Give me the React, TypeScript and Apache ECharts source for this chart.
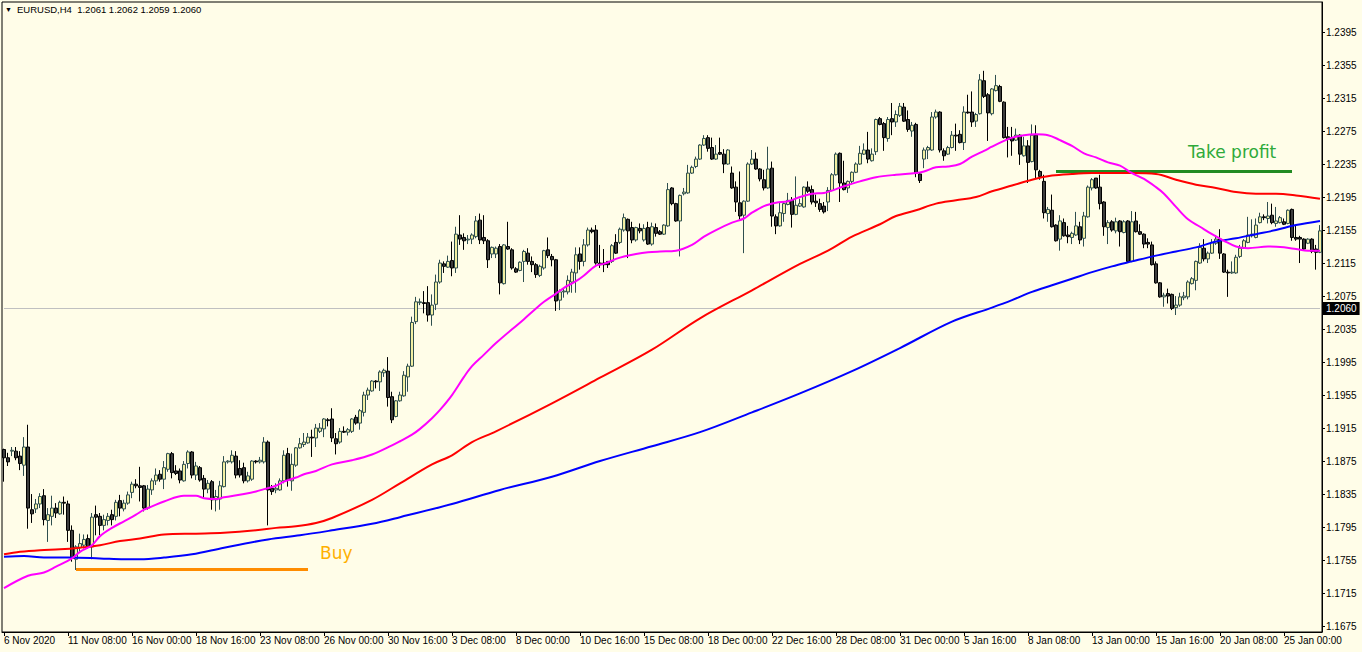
import React, { useEffect, useRef } from "react";
import * as echarts from "echarts";

const SCALE = 10000; // values below are in units of 0.0001

// H4 bars, [open, high, low, close]
const OHLC: number[][] = [
  [11889,11890,11850,11879],[11879,11885,11869,11874],[11887,11892,11881,11888],[11887,11892,11876,11879],
  [11881,11887,11864,11872],[11870,11904,11857,11892],[11892,11919,11793,11818],[11816,11835,11800,11811],
  [11817,11829,11812,11823],[11823,11836,11818,11832],[11833,11841,11797,11804],[11803,11818,11777,11810],
  [11808,11833,11797,11818],[11818,11824,11806,11812],[11811,11827,11810,11825],[11825,11832,11810,11824],
  [11823,11827,11777,11791],[11791,11797,11753,11757],[11756,11773,11743,11771],[11770,11787,11765,11775],
  [11773,11786,11769,11780],[11781,11786,11769,11771],[11771,11812,11756,11807],[11810,11821,11785,11807],
  [11808,11812,11785,11797],[11797,11810,11791,11804],[11803,11812,11797,11808],[11810,11816,11797,11804],
  [11808,11828,11803,11825],[11827,11834,11808,11818],[11817,11828,11814,11824],[11824,11838,11822,11834],
  [11837,11850,11830,11847],[11847,11853,11842,11845],[11845,11868,11826,11843],[11845,11846,11814,11818],
  [11818,11846,11816,11841],[11840,11854,11834,11851],[11851,11866,11846,11858],[11859,11864,11850,11853],
  [11853,11875,11841,11867],[11865,11885,11862,11884],[11884,11886,11854,11861],[11863,11870,11858,11860],
  [11863,11866,11848,11852],[11851,11875,11850,11871],[11872,11888,11866,11886],[11886,11887,11854,11858],
  [11858,11874,11852,11869],[11867,11869,11850,11852],[11854,11858,11830,11841],[11841,11852,11836,11848],
  [11850,11852,11816,11828],[11828,11840,11814,11832],[11829,11851,11816,11845],[11844,11881,11843,11874],
  [11874,11876,11872,11875],[11874,11888,11872,11882],[11881,11887,11854,11858],[11866,11876,11855,11858],
  [11867,11873,11848,11851],[11851,11862,11849,11857],[11853,11876,11851,11875],[11875,11876,11872,11874],
  [11874,11880,11872,11876],[11874,11904,11872,11898],[11898,11900,11797,11840],[11842,11846,11834,11838],
  [11840,11848,11836,11842],[11840,11854,11839,11851],[11851,11888,11848,11882],[11884,11891,11844,11852],
  [11851,11884,11839,11871],[11870,11892,11868,11891],[11891,11903,11890,11896],[11895,11909,11892,11898],
  [11897,11909,11896,11904],[11904,11913,11880,11903],[11903,11920,11892,11915],[11911,11921,11909,11915],
  [11914,11927,11904,11926],[11925,11927,11917,11924],[11926,11939,11898,11903],[11902,11909,11883,11896],
  [11898,11915,11896,11911],[11911,11917,11909,11910],[11910,11915,11906,11913],[11911,11927,11909,11926],
  [11928,11931,11919,11921],[11921,11938,11913,11936],[11934,11959,11929,11955],[11955,11964,11949,11961],
  [11960,11973,11959,11972],[11972,11973,11963,11971],[11971,11985,11960,11983],[11982,11987,11977,11985],
  [11984,12001,11941,11952],[11953,11959,11921,11925],[11929,11949,11928,11948],[11948,11959,11947,11955],
  [11954,11984,11953,11979],[11977,11993,11959,11990],[11990,12050,11989,12043],[12044,12074,12041,12068],
  [12067,12072,12064,12068],[12067,12081,12054,12066],[12067,12087,12044,12052],[12052,12077,12039,12064],
  [12065,12101,12058,12092],[12092,12119,12090,12115],[12114,12117,12103,12111],[12110,12124,12109,12117],
  [12118,12141,12099,12109],[12109,12159,12103,12150],[12149,12173,12137,12144],[12146,12151,12131,12142],
  [12143,12149,12138,12144],[12144,12151,12138,12149],[12147,12172,12145,12166],[12167,12175,12138,12143],
  [12146,12173,12138,12142],[12142,12144,12109,12119],[12126,12135,12121,12134],[12126,12135,12121,12133],
  [12135,12138,12077,12091],[12090,12138,12089,12137],[12135,12165,12131,12132],[12131,12133,12107,12109],
  [12108,12110,12103,12104],[12106,12117,12105,12116],[12117,12131,12092,12129],[12127,12133,12113,12117],
  [12117,12123,12104,12113],[12113,12115,12097,12101],[12100,12113,12098,12111],[12109,12131,12107,12130],
  [12131,12146,12121,12124],[12123,12126,12111,12119],[12119,12120,12057,12069],[12070,12083,12058,12080],
  [12080,12084,12073,12081],[12080,12100,12077,12094],[12092,12108,12079,12104],[12103,12134,12079,12125],
  [12126,12134,12107,12117],[12117,12144,12111,12137],[12137,12158,12135,12155],[12155,12158,12151,12153],
  [12155,12161,12113,12115],[12115,12137,12109,12113],[12115,12132,12104,12113],[12117,12117,12109,12113],
  [12117,12138,12115,12136],[12140,12150,12126,12127],[12140,12158,12138,12156],[12155,12175,12153,12170],
  [12168,12169,12121,12154],[12158,12165,12139,12143],[12143,12159,12141,12158],[12157,12163,12151,12154],
  [12143,12162,12141,12157],[12158,12165,12137,12138],[12138,12164,12136,12159],[12158,12163,12147,12151],
  [12153,12155,12149,12150],[12150,12162,12149,12161],[12160,12212,12159,12204],[12206,12207,12185,12187],
  [12187,12188,12165,12166],[12166,12198,12123,12197],[12199,12206,12197,12201],[12200,12234,12199,12224],
  [12224,12233,12223,12231],[12232,12244,12230,12241],[12241,12259,12240,12258],[12258,12270,12257,12266],
  [12267,12270,12250,12254],[12255,12267,12240,12241],[12241,12258,12240,12247],[12249,12267,12246,12247],
  [12247,12253,12224,12235],[12235,12253,12234,12252],[12224,12232,12205,12206],[12207,12214,12177,12189],
  [12188,12226,12167,12172],[12173,12191,12127,12190],[12190,12237,12189,12235],[12235,12252,12234,12241],
  [12241,12249,12228,12229],[12229,12230,12214,12217],[12216,12228,12203,12206],[12206,12256,12205,12229],
  [12230,12238,12159,12172],[12171,12174,12150,12160],[12160,12189,12159,12176],[12175,12190,12165,12187],
  [12186,12200,12185,12191],[12191,12195,12158,12174],[12174,12220,12173,12185],[12184,12193,12183,12187],
  [12183,12208,12182,12207],[12207,12214,12200,12202],[12204,12209,12186,12189],[12190,12198,12183,12188],
  [12187,12193,12177,12180],[12184,12189,12175,12177],[12189,12207,12178,12203],[12203,12224,12202,12222],
  [12222,12249,12221,12247],[12248,12249,12189,12212],[12212,12239,12203,12204],[12206,12215,12200,12214],
  [12214,12226,12212,12225],[12225,12237,12224,12235],[12235,12257,12234,12248],[12247,12260,12246,12252],
  [12252,12274,12236,12241],[12239,12254,12238,12247],[12250,12290,12246,12289],[12290,12292,12282,12283],
  [12284,12286,12251,12267],[12266,12292,12262,12289],[12290,12309,12270,12286],[12286,12300,12280,12295],
  [12294,12309,12292,12305],[12304,12309,12286,12287],[12289,12300,12274,12277],[12275,12286,12268,12282],
  [12283,12285,12219,12224],[12223,12224,12212,12215],[12241,12255,12230,12252],[12252,12257,12241,12255],
  [12252,12298,12251,12292],[12292,12301,12290,12298],[12298,12299,12249,12252],[12251,12254,12239,12245],
  [12247,12257,12246,12255],[12255,12275,12254,12270],[12270,12284,12251,12269],[12271,12276,12260,12261],
  [12261,12305,12252,12298],[12298,12319,12296,12297],[12298,12323,12280,12286],[12287,12297,12280,12295],
  [12296,12344,12295,12337],[12336,12348,12315,12317],[12319,12321,12263,12297],[12296,12327,12294,12326],
  [12324,12343,12323,12330],[12329,12331,12310,12311],[12310,12311,12266,12267],[12268,12280,12243,12265],
  [12267,12280,12245,12263],[12264,12278,12263,12270],[12270,12271,12234,12247],[12245,12268,12244,12257],
  [12257,12264,12212,12237],[12238,12283,12237,12270],[12270,12282,12218,12228],[12226,12228,12216,12220],
  [12214,12222,12169,12176],[12175,12183,12165,12180],[12179,12198,12158,12159],[12161,12162,12141,12142],
  [12144,12173,12130,12166],[12164,12169,12147,12148],[12149,12160,12139,12147],[12146,12153,12138,12151],
  [12149,12177,12148,12160],[12159,12165,12138,12143],[12145,12177,12135,12172],[12171,12209,12170,12207],
  [12206,12218,12203,12216],[12218,12218,12205,12206],[12207,12222,12180,12187],[12189,12190,12148,12159],
  [12158,12167,12138,12164],[12165,12167,12153,12155],[12154,12170,12151,12165],[12166,12167,12135,12153],
  [12152,12167,12151,12165],[12166,12167,12116,12117],[12117,12178,12116,12165],[12166,12177,12152,12153],
  [12153,12162,12149,12150],[12150,12151,12133,12138],[12140,12145,12133,12138],[12137,12141,12112,12113],
  [12114,12117,12090,12091],[12091,12092,12073,12074],[12074,12079,12062,12076],[12078,12084,12066,12075],
  [12077,12078,12058,12060],[12061,12075,12052,12064],[12064,12079,12062,12074],[12073,12080,12070,12075],
  [12074,12094,12071,12092],[12090,12098,12089,12096],[12094,12118,12082,12117],[12115,12139,12114,12134],
  [12133,12144,12117,12120],[12120,12129,12115,12127],[12127,12144,12126,12140],[12139,12149,12137,12144],
  [12144,12156,12120,12127],[12126,12127,12103,12104],[12104,12107,12074,12103],[12103,12117,12102,12104],
  [12103,12125,12102,12122],[12123,12137,12121,12133],[12133,12144,12132,12142],[12140,12171,12139,12149],
  [12148,12168,12146,12150],[12146,12169,12145,12161],[12164,12176,12163,12171],[12171,12174,12167,12170],
  [12169,12189,12163,12172],[12173,12187,12162,12164],[12163,12183,12159,12166],[12164,12172,12163,12170],
  [12165,12169,12161,12162],[12163,12180,12162,12179],[12180,12181,12142,12146],[12146,12161,12142,12144],
  [12146,12148,12115,12144],[12144,12145,12130,12132],[12139,12145,12138,12144],[12144,12145,12127,12129],
  [12132,12137,12107,12128],[12128,12161,12127,12154],
];

// moving averages: [bar index, value]
const MA_FAST: number[][] = [
  [0,11721],[6,11736],[10,11740],[13,11747],[17,11757],[19,11765],[22,11773],[24,11784],[27,11794],[30,11802],
  [33,11810],[35,11816],[37,11820],[40,11826],[45,11833],[48,11833],[50,11830],[53,11829],[55,11831],[60,11835],
  [63,11838],[65,11841],[68,11845],[70,11850],[73,11855],[75,11859],[78,11863],[82,11871],[87,11876],[92,11883],
  [97,11894],[99,11899],[102,11907],[104,11914],[107,11927],[109,11937],[112,11955],[115,11977],[117,11990],
  [120,12004],[123,12018],[130,12047],[133,12060],[135,12068],[138,12078],[140,12085],[143,12093],[145,12100],
  [148,12112],[150,12114],[153,12120],[155,12123],[158,12126],[161,12128],[164,12129],[168,12130],[172,12137],
  [175,12147],[178,12155],[182,12164],[185,12169],[187,12176],[190,12184],[193,12188],[196,12190],[199,12195],
  [202,12199],[205,12200],[210,12208],[214,12214],[218,12219],[223,12222],[228,12224],[230,12226],[233,12231],
  [236,12232],[239,12235],[242,12244],[245,12251],[247,12256],[250,12263],[252,12267],[255,12270],[258,12271],
  [261,12270],[264,12264],[267,12257],[270,12248],[273,12243],[276,12237],[279,12233],[282,12224],[285,12217],
  [288,12207],[290,12199],[293,12183],[296,12168],[299,12159],[302,12150],[305,12142],[308,12135],[311,12133],
  [316,12135],[320,12134],[323,12132],[326,12130],[329,12130],
];
const MA_MID: number[][] = [
  [0,11762],[4,11765],[9,11767],[14,11768],[19,11770],[24,11773],[29,11778],[34,11781],[40,11786],[48,11787],
  [55,11788],[63,11791],[68,11794],[73,11796],[78,11800],[82,11806],[92,11828],[99,11848],[107,11871],[112,11882],
  [117,11898],[123,11911],[137,11945],[149,11976],[162,12010],[174,12048],[187,12082],[199,12114],[206,12130],
  [212,12147],[219,12162],[223,12172],[228,12179],[233,12187],[238,12191],[243,12195],[247,12202],[252,12209],
  [257,12216],[262,12221],[267,12223],[272,12224],[277,12224],[282,12224],[288,12223],[293,12216],[298,12210],
  [303,12206],[308,12201],[313,12199],[318,12199],[323,12197],[329,12193],
];
const MA_SLOW: number[][] = [
  [0,11759],[5,11760],[10,11758],[16,11758],[24,11757],[30,11756],[34,11756],[40,11758],[47,11762],[55,11770],
  [66,11780],[74,11785],[82,11791],[92,11799],[99,11807],[112,11823],[124,11840],[137,11856],[149,11875],
  [162,11893],[174,11910],[187,11934],[199,11957],[212,11984],[224,12012],[237,12044],[247,12061],[252,12070],
  [257,12080],[262,12088],[267,12096],[272,12104],[277,12111],[282,12117],[288,12124],[293,12129],[298,12134],
  [303,12141],[308,12145],[313,12150],[318,12155],[323,12161],[329,12166],
];

const TICK_LABELS = [
  "6 Nov 2020","11 Nov 08:00","16 Nov 00:00","18 Nov 16:00","23 Nov 08:00","26 Nov 00:00","30 Nov 16:00",
  "3 Dec 08:00","8 Dec 00:00","10 Dec 16:00","15 Dec 08:00","18 Dec 00:00","22 Dec 16:00","28 Dec 08:00",
  "31 Dec 00:00","5 Jan 16:00","8 Jan 08:00","13 Jan 00:00","15 Jan 16:00","20 Jan 08:00","25 Jan 00:00",
];
const BARS_PER_TICK = 16;
const Y_TICKS = [11675,11715,11755,11795,11835,11875,11915,11955,11995,12035,12075,12115,12155,12195,12235,12275,12315,12355,12395];
const Y_MIN = 11667.8;
const Y_MAX = 12431.4;

const HEADER = "EURUSD,H4  1.2061 1.2062 1.2059 1.2060";
const BID = 12060;
const BUY_LEVEL = 11744;
const BUY_RANGE = [18, 76];
const BUY_TEXT_AT = [79, 11763];
const TP_LEVEL = 12226;
const TP_RANGE = [263, 322];
const TP_TEXT_AT = [296, 12250];

const FONT = "'Liberation Sans', Arial, sans-serif";

export default function App() {
  const ref = useRef<HTMLDivElement>(null);
  useEffect(() => {
    if (!ref.current) return;
    const chart = echarts.init(ref.current, undefined, { renderer: "svg" });
    const cats = OHLC.map((_, i) => String(i));
    const candles = OHLC.map(([o, h, l, c]) => [o / SCALE, c / SCALE, l / SCALE, h / SCALE]);
    const pts = (a: number[][]) => a.map(([i, v]) => [i, v / SCALE]);
    const lastBar = OHLC.length - 1;
    const maLine = (name: string, data: number[][], color: string) => ({
      name,
      type: "line",
      data: pts(data),
      showSymbol: false,
      smooth: 0.35,
      lineStyle: { color, width: 2 },
      z: 4,
      silent: true,
    });
    const option: any = {
      animation: false,
      backgroundColor: "#FFFDE8",
      grid: { left: 2, right: 40, top: 2, bottom: 20, show: true, borderColor: "#000", borderWidth: 1 },
      xAxis: {
        type: "category",
        data: cats,
        boundaryGap: true,
        axisLine: { show: true, lineStyle: { color: "#000", width: 1 } },
        axisTick: { show: true, alignWithLabel: true, interval: BARS_PER_TICK - 1, length: 4, lineStyle: { color: "#000" } },
        axisLabel: {
          interval: BARS_PER_TICK - 1,
          align: "left",
          margin: 3,
          fontSize: 10,
          fontFamily: FONT,
          color: "#000",
          formatter: (_v: string, idx: number) => TICK_LABELS[idx / BARS_PER_TICK] ?? "",
        },
        splitLine: { show: false },
      },
      yAxis: {
        type: "value",
        position: "right",
        min: Y_MIN / SCALE,
        max: Y_MAX / SCALE,
        axisLine: { show: true, lineStyle: { color: "#000", width: 1 } },
        axisTick: { show: true, length: 3, customValues: Y_TICKS.map((v) => v / SCALE), lineStyle: { color: "#000" } },
        axisLabel: {
          customValues: Y_TICKS.map((v) => v / SCALE),
          formatter: (v: number) => v.toFixed(4),
          fontSize: 10,
          fontFamily: FONT,
          color: "#000",
          margin: 4,
        },
        splitLine: { show: false },
      },
      graphic: [
        { type: "text", left: 5, top: 6, style: { text: "▼", fontSize: 7, fill: "#000", fontFamily: FONT } },
        { type: "text", left: 17, top: 4, style: { text: HEADER, fontSize: 9.5, fill: "#000", fontFamily: FONT } },
      ],
      series: [
        {
          name: "EURUSD",
          type: "candlestick",
          data: candles,
          barWidth: 3,
          z: 3,
          silent: true,
          itemStyle: {
            color: "#F2EFA2",
            color0: "#3C3C3C",
            borderColor: "#2F4F4F",
            borderColor0: "#000000",
            borderWidth: 1,
          },
          markLine: {
            silent: true,
            symbol: ["none", "none"],
            animation: false,
            z: 1,
            data: [
              [
                {
                  coord: [0, BID / SCALE],
                  lineStyle: { color: "#C0C0C0", width: 1, type: "solid" },
                  label: {
                    show: true,
                    position: "end",
                    distance: 3,
                    formatter: (BID / SCALE).toFixed(4),
                    backgroundColor: "#000",
                    color: "#fff",
                    fontSize: 10,
                    fontFamily: FONT,
                    padding: [2, 3, 1, 3],
                  },
                },
                { coord: [lastBar, BID / SCALE] },
              ],
              [
                { coord: [BUY_RANGE[0], BUY_LEVEL / SCALE], lineStyle: { color: "#FF8C00", width: 3, type: "solid" }, label: { show: false } },
                { coord: [BUY_RANGE[1], BUY_LEVEL / SCALE] },
              ],
              [
                { coord: [TP_RANGE[0], TP_LEVEL / SCALE], lineStyle: { color: "#228B22", width: 3, type: "solid" }, label: { show: false } },
                { coord: [TP_RANGE[1], TP_LEVEL / SCALE] },
              ],
            ],
          },
          markPoint: {
            silent: true,
            symbol: "circle",
            symbolSize: 0,
            animation: false,
            data: [
              {
                coord: [BUY_TEXT_AT[0], BUY_TEXT_AT[1] / SCALE],
                label: { show: true, formatter: "Buy", position: "right", distance: 0, color: "#FFB000", fontSize: 17, fontFamily: "'DejaVu Sans', sans-serif" },
              },
              {
                coord: [TP_TEXT_AT[0], TP_TEXT_AT[1] / SCALE],
                label: { show: true, formatter: "Take profit", position: "right", distance: 0, color: "#2EAA3A", fontSize: 17, fontFamily: "'DejaVu Sans', sans-serif" },
              },
            ],
          },
        },
        maLine("MA slow", MA_SLOW, "#0000FF"),
        maLine("MA mid", MA_MID, "#FF0000"),
        maLine("MA fast", MA_FAST, "#FF00FF"),
      ],
    };
    chart.setOption(option);
    return () => chart.dispose();
  }, []);
  return (
    <div
      ref={ref}
      style={{ position: "fixed", left: 0, top: 0, width: 1362, height: 652, background: "#FFFDE8" }}
    />
  );
}
